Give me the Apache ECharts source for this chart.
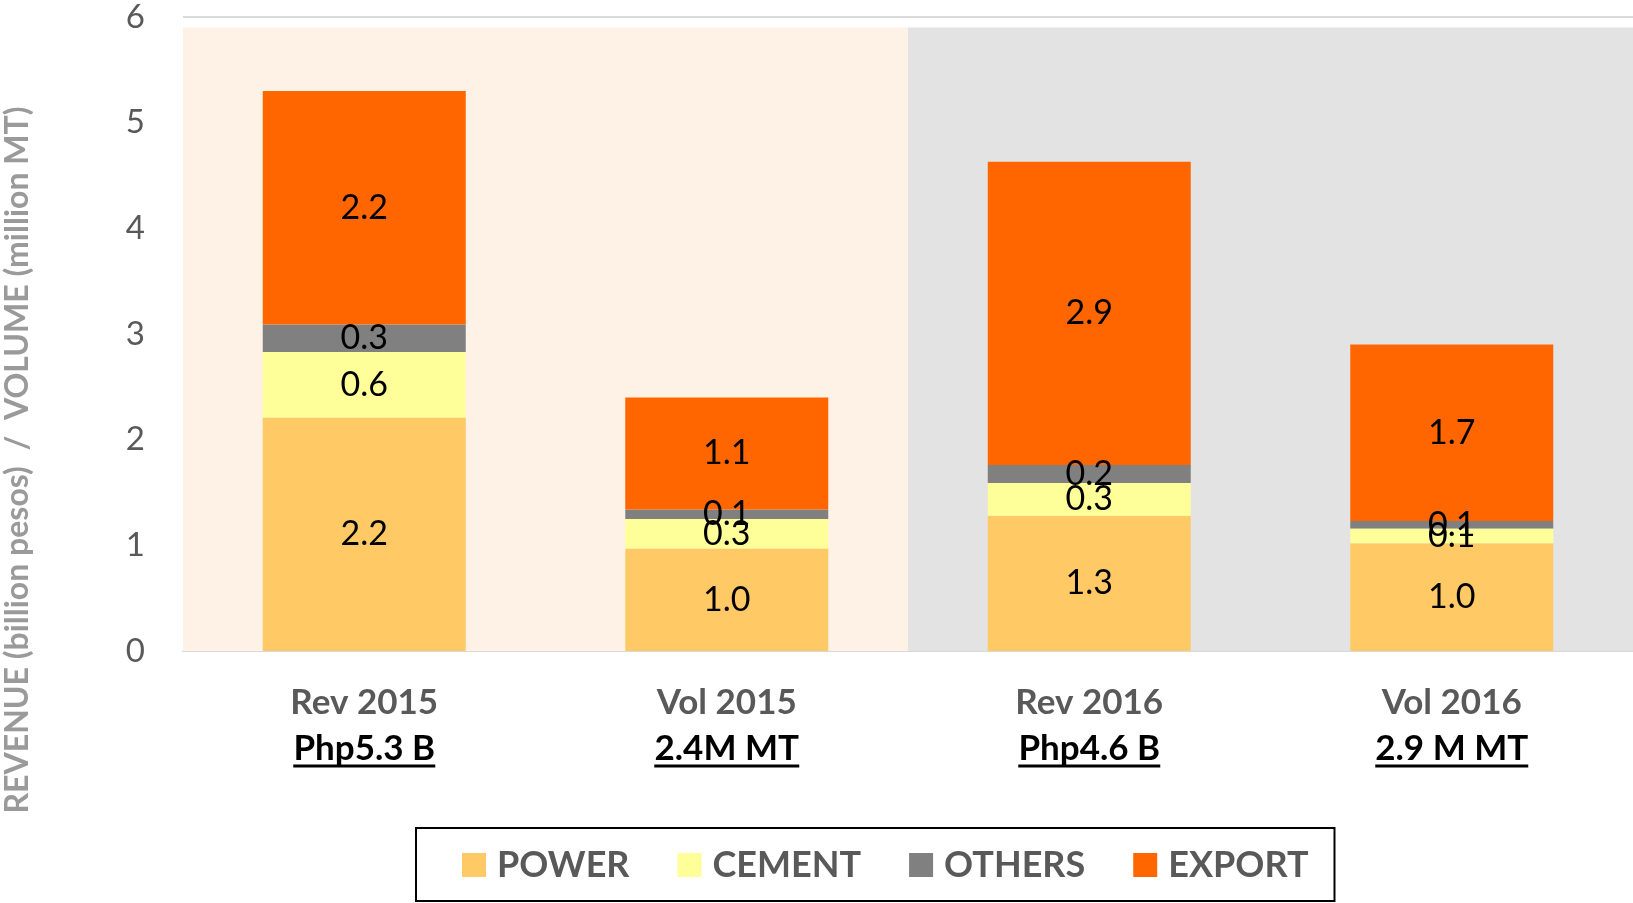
<!DOCTYPE html>
<html>
<head>
<meta charset="utf-8">
<script src="https://cdn.jsdelivr.net/npm/echarts@6/dist/echarts.min.js"></script>
<style>
	html, body { margin: 0; padding: 0; background: #fff; }
	#chartBox { width: 1633px; height: 903px; }
</style>
</head>
<body>
<div id="chartBox"></div>
<script>
// categories (two lines: kind + total)
var catNames = ['Rev 2015', 'Vol 2015', 'Rev 2016', 'Vol 2016'];
var catTotals = ['Php5.3 B', '2.4M MT', 'Php4.6 B', '2.9 M MT'];

// stacked segments
var seriesNames = ['POWER', 'CEMENT', 'OTHERS', 'EXPORT'];
var power = [2.21, 0.97, 1.28, 1.02];
var cement = [0.62, 0.28, 0.31, 0.14];
var others = [0.26, 0.09, 0.17, 0.07];
var exportVals = [2.21, 1.06, 2.87, 1.67];

var yTicks = [0, 1, 2, 3, 4, 5, 6];

// shaded periods behind the bars (on a 0..4 hidden x scale)
var bandFrom = [0, 2];
var bandTo = [2, 4];
var bandTop = 5.9;

var colors = ['#FFCA66', '#FFFF99', '#808080', '#FF6600'];
var bandColors = ['#FEF1E5', '#E3E3E3'];

var fontName = 'Lato';

// widths for the underline under the totals
var cv = document.createElement('canvas').getContext('2d');
cv.font = 'bold 35px ' + fontName;
var rich = {
	a: { fontFamily: fontName, fontWeight: 'bold', fontSize: 35, color: '#595959', lineHeight: 62 },
	b: { fontFamily: fontName, fontWeight: 'bold', fontSize: 35, color: '#000', lineHeight: 30 }
};
catTotals.forEach(function (t, i) {
	rich['u' + i] = { width: Math.round(cv.measureText(t).width), height: 3, lineHeight: 4, backgroundColor: '#000', fontSize: 1 };
});

var chart = echarts.init(document.getElementById('chartBox'));

var segData = [power, cement, others, exportVals];
var series = seriesNames.map(function (name, k) {
	return {
		name: name,
		type: 'bar',
		stack: 'total',
		barWidth: '56%',
		itemStyle: { color: colors[k] },
		label: {
			show: true,
			position: 'inside',
			color: '#000',
			fontFamily: fontName,
			fontSize: 34,
			formatter: function (p) { return p.value.toFixed(1); }
		},
		data: segData[k]
	};
});

// background bands
series.push({
	name: 'bands',
	type: 'line',
	xAxisIndex: 1,
	z: -1,
	silent: true,
	showSymbol: false,
	data: [],
	markArea: {
		silent: true,
		data: bandFrom.map(function (f, i) {
			return [
				{ xAxis: f, yAxis: 0, itemStyle: { color: bandColors[i] } },
				{ xAxis: bandTo[i], yAxis: bandTop }
			];
		})
	}
});

var option = {
	animation: false,
	grid: { left: 183, right: 0, top: 17, bottom: 252 },
	legend: {
		data: seriesNames,
		left: 416,
		top: 828,
		padding: [19, 26, 18, 46],
		borderColor: '#000',
		borderWidth: 2,
		itemWidth: 24,
		itemHeight: 24,
		itemGap: 48,
		icon: 'rect',
		textStyle: { fontFamily: fontName, fontWeight: 'bold', fontSize: 36, color: '#595959', padding: [0, 0, 0, 6] }
	},
	xAxis: [{
		type: 'category',
		data: catNames,
		axisTick: { show: false },
		axisLine: { lineStyle: { color: '#D9D9D9', width: 2 } },
		axisLabel: {
			margin: 21,
			interval: 0,
			rich: rich,
			formatter: function (v, i) {
				return '{a|' + v + '}\n{b|' + catTotals[i] + '}\n{u' + i + '| }';
			}
		}
	}, {
		type: 'value',
		min: 0,
		max: 4,
		show: false
	}],
	yAxis: {
		type: 'value',
		min: yTicks[0],
		max: yTicks[yTicks.length - 1],
		interval: 1,
		axisLine: { show: false },
		axisTick: { show: false },
		axisLabel: { margin: 38, fontFamily: fontName, fontSize: 33, color: '#595959' },
		splitLine: { lineStyle: { color: '#D9D9D9', width: 2 } }
	},
	graphic: [{
		type: 'text',
		x: 18,
		y: 460,
		rotation: Math.PI / 2,
		style: {
			text: 'REVENUE (billion pesos)  /  VOLUME (million MT)',
			fontFamily: fontName,
			fontWeight: 'bold',
			fontSize: 32,
			fill: '#9A9A9A',
			textAlign: 'center',
			textVerticalAlign: 'middle'
		}
	}],
	series: series
};
chart.setOption(option);
</script>
</body>
</html>
